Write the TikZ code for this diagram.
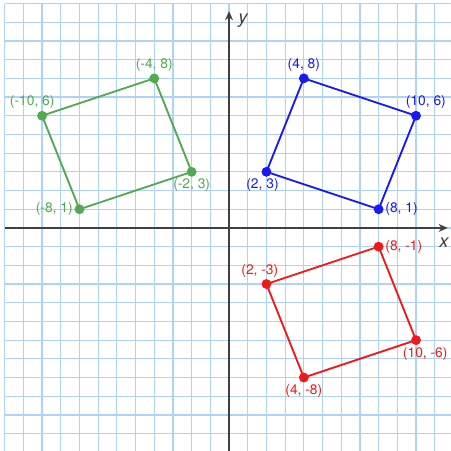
\documentclass[tikz,border=0pt]{standalone}
\usepackage{fontspec}
\setmainfont{TeX Gyre Heros}
\usetikzlibrary{arrows.meta,calc,positioning}
\pgfdeclarelayer{background}
\pgfdeclarelayer{foreground}
\pgfsetlayers{background,main,foreground}
\definecolor{gridblue}{RGB}{175,210,248}
\definecolor{ptgreen}{RGB}{80,170,80}
\definecolor{ptblue}{RGB}{25,25,245}
\definecolor{ptred}{RGB}{240,25,25}
\tikzset{
  quadline/.style={line width=1.4pt},
  pt/.style={circle,fill,inner sep=0pt,minimum size=7.5pt},
  lbl/.style={font=\fontsize{10.5}{12}\selectfont,inner sep=1pt},
}

\begin{document}
\begin{tikzpicture}[x=0.5cm,y=0.5cm]
\useasboundingbox (-12.25,-11.93) rectangle (11.87,12.19);

\begin{pgfonlayer}{background}
\fill[white] (-12.25,-11.93) rectangle (11.87,12.19);
\clip (-12.25,-11.93) rectangle (11.87,12.19);
\draw[gridblue, line width=0.9pt, step=1] (-12,-12) grid (12,12);
\end{pgfonlayer}

% axes
\draw[black!75, line width=1.1pt, -{Stealth[length=7pt,width=6pt]}] (-12,0) -- (11.7,0);
\draw[black!75, line width=1.1pt, -{Stealth[length=7pt,width=6pt]}] (0,-11.93) -- (0,11.6);
\node[font=\fontsize{14}{16}\selectfont\itshape, black!75] (ylab) at (0.75,11.1) {y};
\node[font=\fontsize{14}{16}\selectfont\itshape, black!75] (xlab) at (11.5,-0.8) {x};

% blue
\coordinate (b1) at (4,8);
\coordinate (b2) at (10,6);
\coordinate (b3) at (8,1);
\coordinate (b4) at (2,3);
\draw[quadline, ptblue] (b1) -- (b2) -- (b3) -- (b4) -- cycle;
\foreach \p in {b1,b2,b3,b4} \node[pt, ptblue] at (\p) {};
\node[lbl, ptblue, above=4pt of b1] (lb1) {(4, 8)};
\node[lbl, ptblue, above=4pt of b2, xshift=7.5pt] (lb2) {(10, 6)};
\node[lbl, ptblue, right=4pt of b3] (lb3) {(8, 1)};
\node[lbl, ptblue, below=4pt of b4, xshift=-3pt] (lb4) {(2, 3)};

% red
\coordinate (r1) at (2,-3);
\coordinate (r2) at (8,-1);
\coordinate (r3) at (10,-6);
\coordinate (r4) at (4,-8);
\draw[quadline, ptred] (r1) -- (r2) -- (r3) -- (r4) -- cycle;
\foreach \p in {r1,r2,r3,r4} \node[pt, ptred] at (\p) {};
\node[lbl, ptred, above=4pt of r1, xshift=-5pt] (lr1) {(2, -3)};
\node[lbl, ptred, right=4pt of r2] (lr2) {(8, -1)};
\node[lbl, ptred, below=4pt of r3, xshift=7pt] (lr3) {(10, -6)};
\node[lbl, ptred, below=4pt of r4] (lr4) {(4, -8)};

% green
\coordinate (g1) at (-4,8);
\coordinate (g2) at (-2,3);
\coordinate (g3) at (-8,1);
\coordinate (g4) at (-10,6);
\draw[quadline, ptgreen] (g1) -- (g2) -- (g3) -- (g4) -- cycle;
\foreach \p in {g1,g2,g3,g4} \node[pt, ptgreen] at (\p) {};
\node[lbl, ptgreen, above=4pt of g1] (lg1) {(-4, 8)};
\node[lbl, ptgreen, below=4pt of g2] (lg2) {(-2, 3)};
\node[lbl, ptgreen, left=4pt of g3] (lg3) {(-8, 1)};
\node[lbl, ptgreen, above=4pt of g4, xshift=-7.5pt] (lg4) {(-10, 6)};
\end{tikzpicture}
\end{document}
